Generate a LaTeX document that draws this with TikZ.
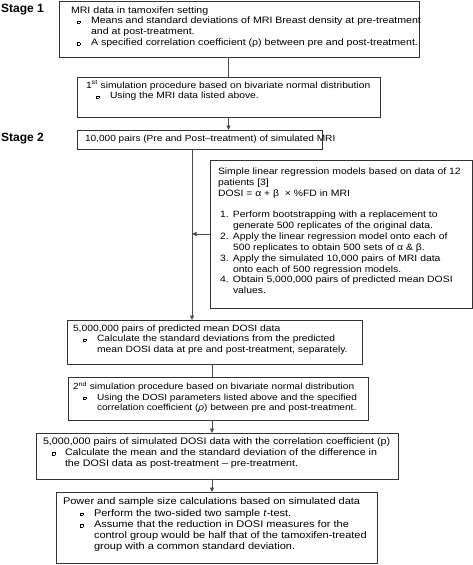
\documentclass[tikz,border=0pt]{standalone}
\usepackage{fontspec}
\setmainfont{Liberation Sans}
\usetikzlibrary{arrows.meta}
\newcommand\bsq{\raisebox{0.9pt}{\setlength\fboxsep{0pt}\setlength\fboxrule{0.35pt}\fbox{\rule{0pt}{2.3pt}\rule{2.3pt}{0pt}}}}
\newcommand\bl[2]{\hspace*{#1}\makebox[#2][l]{\bsq}}
\newcommand\nm[1]{\hspace*{2pt}\makebox[13pt][l]{#1}}
\begin{document}
\begin{tikzpicture}[x=1pt,y=-1pt,
  frame/.style={draw=black!80,line width=0.8pt,inner sep=0pt,outer sep=0pt,anchor=north west,fill=white},
  txt/.style={inner sep=0pt,outer sep=0pt,anchor=north west,align=left,font=\fontsize{10.4}{12}\selectfont,yscale=0.88,transform shape},
  stagelab/.style={inner sep=0pt,anchor=west,font=\fontsize{12}{12}\selectfont\bfseries},
  conn/.style={draw=black!70,line width=0.8pt},
  arr/.style={conn,-{Triangle[length=4.5pt,width=4pt]}}]
\useasboundingbox (0,0) rectangle (473,565);
\coordinate (vx) at (192,0);
\coordinate (vy) at (212,0);
% stage labels
\node[stagelab] (s1) at (1,9.5) {Stage 1};
\node[stagelab] (s2) at (1,139) {Stage 2};
% boxes
\node[frame,minimum width=360pt,minimum height=56pt] (b1) at (59,1) {};
\node[frame,minimum width=303pt,minimum height=40pt] (b2) at (77,77) {};
\node[frame,minimum width=245pt,minimum height=19pt] (b3) at (77,130) {};
\node[frame,minimum width=262pt,minimum height=148pt] (b4) at (210,160) {};
\node[frame,minimum width=295pt,minimum height=44pt] (b5) at (67,320) {};
\node[frame,minimum width=300pt,minimum height=43pt] (b6) at (68,377) {};
\node[frame,minimum width=362pt,minimum height=46pt] (b7) at (36,433) {};
\node[frame,minimum width=321pt,minimum height=71pt] (b8) at (56,492) {};
% texts
\node[txt,font=\fontsize{10.6}{12.3}\selectfont] (t1) at (71,6.3) {MRI data in tamoxifen setting\\
\bl{6pt}{14pt}Means and standard deviations of MRI Breast density at pre-treatment\\
\hspace*{20pt}and at post-treatment.\\
\bl{6pt}{14pt}A specified correlation coefficient (ρ) between pre and post-treatment.};
\node[txt,font=\fontsize{10.3}{12}\selectfont] (t2) at (86,80.8) {1\textsuperscript{st} simulation procedure based on bivariate normal distribution\\
\bl{10pt}{14pt}Using the MRI data listed above.};
\node[txt,font=\fontsize{10.1}{11.5}\selectfont] (t3) at (85,135.5) {10,000 pairs (Pre and Post–treatment) of simulated MRI};
\node[txt,font=\fontsize{10.4}{12.3}\selectfont] (t4) at (218,168) {Simple linear regression models based on data of 12\\
patients [3]\\
DOSI = α + β \ × \%FD in MRI\\[12.3pt]
\nm{1.}Perform bootstrapping with a replacement to\\
\hspace*{15pt}generate 500 replicates of the original data.\\
\nm{2.}Apply the linear regression model onto each of\\
\hspace*{15pt}500 replicates to obtain 500 sets of α \& β.\\
\nm{3.}Apply the simulated 10,000 pairs of MRI data\\
\hspace*{15pt}onto each of 500 regression models.\\
\nm{4.}Obtain 5,000,000 pairs of predicted mean DOSI\\
\hspace*{15pt}values.};
\node[txt,font=\fontsize{10.3}{12}\selectfont] (t5) at (73,324.5) {5,000,000 pairs of predicted mean DOSI data\\
\bl{10pt}{14pt}Calculate the standard deviations from the predicted\\
\hspace*{24pt}mean DOSI data at pre and post-treatment, separately.};
\node[txt,font=\fontsize{10.1}{12}\selectfont] (t6) at (73,381.8) {2\textsuperscript{nd} simulation procedure based on bivariate normal distribution\\
\bl{10pt}{14pt}Using the DOSI parameters listed above and the specified\\
\hspace*{24pt}correlation coefficient (\textit{ρ}) between pre and post-treatment.};
\node[txt,font=\fontsize{10.7}{12.2}\selectfont] (t7) at (43,437.8) {5,000,000 pairs of simulated DOSI data with the correlation coefficient (p)\\
\bl{9pt}{13pt}Calculate the mean and the standard deviation of the difference in\\
\hspace*{22pt}the DOSI data as post-treatment – pre-treatment.};
\node[txt,font=\fontsize{11}{12.8}\selectfont] (t8) at (63,497.8) {Power and sample size calculations based on simulated data\\
\bl{17pt}{14pt}Perform the two-sided two sample \textit{t}-test.\\
\bl{17pt}{14pt}Assume that the reduction in DOSI measures for the\\
\hspace*{31pt}control group would be half that of the tamoxifen-treated\\
\hspace*{31pt}group with a common standard deviation.};
% connectors
\draw[conn] (b1.south -| b2.north) -- (b2.north);
\draw[arr] (b2.south) -- (b2.south |- b3.north);
\draw[arr] (b3.south -| vx) -- (b5.north -| vx);
\draw[arr] (b4.west) -- (b4.west -| vx);
\draw[conn] (b5.south -| vy) -- (b6.north -| vy);
\draw[arr] (b6.south -| vy) -- (b7.north -| vy);
\draw[arr] (b7.south -| vy) -- (b8.north -| vy);
\end{tikzpicture}
\end{document}
